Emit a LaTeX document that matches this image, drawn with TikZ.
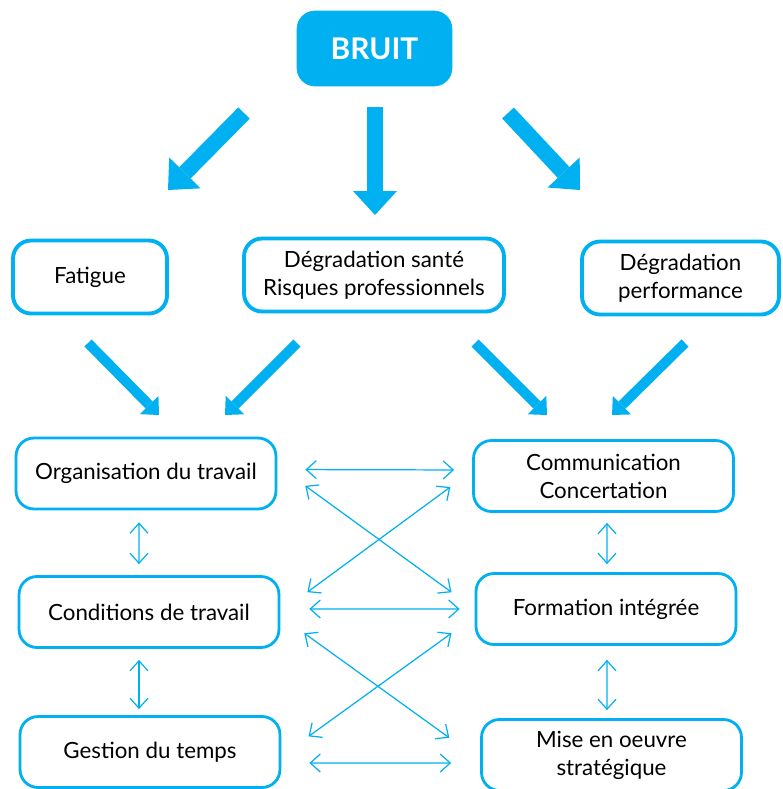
\documentclass[tikz,border=0pt]{standalone}
\usepackage{fontspec}
\setmainfont{Lato}
\usetikzlibrary{arrows.meta}
\definecolor{bleu}{HTML}{00B0F0}

\begin{document}
\begin{tikzpicture}[x=0.02cm, y=-0.02cm,
        font=\fontsize{12.7}{16}\selectfont,
        box/.style={draw=bleu, rounded corners=0.36cm, align=center, inner sep=2pt},
        haut/.style={box, line width=2.2pt, minimum height=1.46cm},
        bas/.style={box, line width=1.6pt, minimum width=5.2cm, minimum height=1.42cm},
        grosse/.style={draw=bleu, line width=0.32cm, -{Triangle[length=0.48cm, width=0.88cm, line width=0pt]}},
        moyenne/.style={draw=bleu, line width=0.2cm, -{Triangle[length=0.28cm, width=0.52cm, line width=0pt]}},
        lien/.style={draw=bleu, line width=0.7pt, {Straight Barb[length=0.2cm, width=0.36cm]}-{Straight Barb[length=0.2cm, width=0.36cm]}}
    ]
        \useasboundingbox (0,0) rectangle (783,789);

        % source
        \node[box, fill=bleu, minimum width=3.1cm, minimum height=1.5cm, text=white, font=\fontsize{17}{20}\selectfont\bfseries] (bruit) at (374.5,48.5) {BRUIT};

        % effets
        \node[haut, minimum width=3.08cm] (fatigue) at (90,277) {Fatigue};
        \node[haut, minimum width=5.2cm] (sante) at (374,275) {Dégradation santé\\Risques professionnels};
        \node[haut, minimum width=3.94cm] (perf) at (680.5,278) {Dégradation\\performance};

        % leviers
        \node[bas] (orga) at (146,473.5) {Organisation du travail};
        \node[bas] (comm) at (603.5,476) {Communication\\Concertation};
        \node[bas] (cond) at (149,612) {Conditions de travail};
        \node[bas] (form) at (606,609) {Formation intégrée};
        \node[bas] (gest) at (150,752) {Gestion du temps};
        \node[bas] (mise) at (611.5,755) {Mise en oeuvre\\stratégique};

        % grosses fleches
        \coordinate (d1) at (244,113); \coordinate (a1) at (168,190);
        \coordinate (d2) at (375,107); \coordinate (a2) at (375,215);
        \coordinate (d3) at (508,113); \coordinate (a3) at (580,190);
        \draw[grosse] (d1) -- (a1);
        \draw[grosse] (d2) -- (a2);
        \draw[grosse] (d3) -- (a3);

        \coordinate (d4) at (88,343);  \coordinate (a4) at (159,415);
        \coordinate (d5) at (297,343); \coordinate (a5) at (225,415);
        \coordinate (d6) at (475,343); \coordinate (a6) at (547,415);
        \coordinate (d7) at (685,343); \coordinate (a7) at (612,415);
        \draw[moyenne] (d4) -- (a4);
        \draw[moyenne] (d5) -- (a5);
        \draw[moyenne] (d6) -- (a6);
        \draw[moyenne] (d7) -- (a7);

        % liens entre leviers
        \draw[lien, shorten <=0.56cm, shorten >=0.36cm] ([yshift=0.08cm]orga.east) -- ([yshift=0.12cm]comm.west);
        \draw[lien, shorten <=0.58cm, shorten >=0.3cm] ([yshift=0.06cm]cond.east) -- (form.west);
        \draw[lien, shorten <=0.56cm, shorten >=0.58cm] ([yshift=-0.22cm]gest.east) -- ([yshift=-0.16cm]mise.west);

        \draw[lien, shorten <=0.24cm, shorten >=0.22cm] ([xshift=-0.14cm]orga.south) -- ([xshift=-0.2cm]cond.north);
        \draw[lien, shorten <=0.22cm, shorten >=0.12cm] ([xshift=-0.2cm]cond.south) -- ([xshift=-0.22cm]gest.north);
        \draw[lien, shorten <=0.2cm, shorten >=0.16cm] ([xshift=0.07cm]comm.south) -- ([xshift=0.02cm]form.north);
        \draw[lien, shorten <=0.28cm, shorten >=0.16cm] ([xshift=0.02cm]form.south) -- ([xshift=-0.09cm]mise.north);

        \draw[lien, shorten <=0.69cm, shorten >=0.57cm] ([yshift=0.16cm]orga.east) -- (form.west);
        \draw[lien, shorten <=0.54cm, shorten >=0.67cm] ([yshift=0.1cm]comm.west) -- (cond.east);
        \draw[lien, shorten <=0.59cm, shorten >=0.76cm] ([yshift=-0.08cm]cond.east) -- ([yshift=-0.1cm]mise.west);
        \draw[lien, shorten <=0.57cm, shorten >=0.67cm] ([yshift=-0.15cm]form.west) -- ([yshift=-0.08cm]gest.east);
    \end{tikzpicture}
\end{document}
